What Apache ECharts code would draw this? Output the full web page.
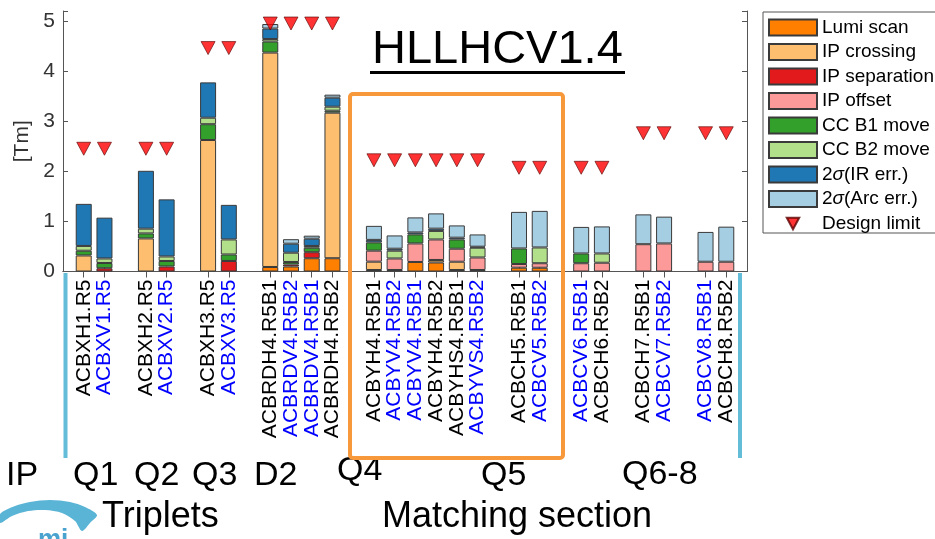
<!DOCTYPE html>
<html><head><meta charset="utf-8">
<script src="https://cdn.jsdelivr.net/npm/echarts@6/dist/echarts.min.js"></script>
<style>html,body{margin:0;padding:0;background:#fff}#c{width:935px;height:539px}</style>
</head><body><div id="c"></div>
<script>
// ---- data ----
const magnetGroups = [
  ['ACBXH1.R5','ACBXV1.R5'],
  ['ACBXH2.R5','ACBXV2.R5'],
  ['ACBXH3.R5','ACBXV3.R5'],
  ['ACBRDH4.R5B1','ACBRDV4.R5B2','ACBRDV4.R5B1','ACBRDH4.R5B2'],
  ['ACBYH4.R5B1','ACBYV4.R5B2','ACBYV4.R5B1','ACBYH4.R5B2','ACBYHS4.R5B1','ACBYVS4.R5B2'],
  ['ACBCH5.R5B1','ACBCV5.R5B2'],
  ['ACBCV6.R5B1','ACBCH6.R5B2'],
  ['ACBCH7.R5B1','ACBCV7.R5B2'],
  ['ACBCV8.R5B1','ACBCH8.R5B2']
];
const seriesNames = ['Lumi scan','IP crossing','IP separation','IP offset','CC B1 move','CC B2 move','2σ(IR err.)','2σ(Arc err.)'];
//                 Q1          Q2          Q3           D2                          Q4                                    Q5            Q6            Q7            Q8
const lumiScan   = [0,0,       0,0,        0,0,         0.09,0.10,0.265,0.265,      0.03,0,0.19,0.18,0.03,0,              0.076,0.075,  0,0,          0,0,          0,0];
const ipCrossing = [0.32,0,    0.66,0,     2.625,0,     4.28,0,0,2.905,             0.166,0,0,0.05,0.165,0,               0,0,          0,0,          0,0,          0,0];
const ipSep      = [0,0.065,   0,0.10,     0,0.21,      0,0.04,0.12,0,              0,0.03,0,0,0,0.03,                    0,0,          0,0,          0,0,          0,0];
const ipOffset   = [0,0,       0,0,        0,0,         0,0,0,0,                    0.22,0.23,0.37,0.41,0.26,0.25,        0.074,0.09,   0.165,0.175,  0.545,0.56,   0.195,0.195];
const ccB1       = [0.095,0.105, 0.10,0.11, 0.315,0.13, 0.22,0.05,0.09,0.04,        0.165,0,0.18,0,0.185,0,               0.31,0,       0.195,0,      0,0,          0,0];
const ccB2       = [0.095,0.09, 0.095,0.09, 0.13,0.30,  0.05,0.185,0.035,0.08,      0,0.155,0,0.17,0,0.195,               0,0.315,      0,0.185,      0,0,          0,0];
const irErr      = [0.84,0.815, 1.155,1.14, 0.705,0.69, 0.21,0.18,0.145,0.18,       0.05,0.04,0.04,0.045,0.035,0.02,      0,0,          0,0,          0,0,          0,0];
const arcErr     = [0,0,       0,0,        0,0,         0.09,0.09,0.06,0.06,        0.28,0.265,0.30,0.305,0.245,0.245,    0.73,0.73,    0.53,0.54,    0.595,0.535,  0.595,0.70];
const designLimit= [2.45,2.45, 2.45,2.45,  4.46,4.46,   4.95,4.95,4.95,4.95,        2.22,2.22,2.22,2.22,2.22,2.22,        2.07,2.07,    2.07,2.07,    2.76,2.76,    2.76,2.76];
const yTicks = [0,1,2,3,4,5];

// ---- build slots (gap between groups) ----
const slots = [];
const slotOfMagnet = [];
let gi = 0;
slots.push('_gap' + (gi++));
magnetGroups.forEach(g => {
  g.forEach(n => { slotOfMagnet.push(slots.length); slots.push(n); });
  slots.push('_gap' + (gi++));
});
function pad(arr) {
  const out = slots.map(() => null);
  arr.forEach((v, i) => { out[slotOfMagnet[i]] = v ? v : null; });
  return out;
}
const colors = ['#ff7f00','#fdbf6f','#e31a1c','#fb9a99','#33a02c','#b2df8a','#1f78b4','#a6cee3'];
const values = [lumiScan, ipCrossing, ipSep, ipOffset, ccB1, ccB2, irErr, arcErr];
const FONT = 'Liberation Sans, Arial, Helvetica, sans-serif';
const isGap = v => String(v).indexOf('_gap') === 0;

const series = values.map((arr, k) => ({
  name: seriesNames[k], type: 'bar', stack: 'total', barWidth: 16,
  xAxisIndex: 0, yAxisIndex: 0,
  itemStyle: { color: colors[k], borderColor: '#3a3a3a', borderWidth: 1 },
  emphasis: { disabled: true },
  data: pad(arr)
}));
series.push({
  name: 'Design limit', type: 'scatter', xAxisIndex: 0, yAxisIndex: 0,
  symbol: 'path://M0,0L14,0L7,13Z', symbolSize: [14, 13],
  itemStyle: { color: '#ff0000', borderColor: '#5a0000', borderWidth: 0.8 },
  z: 5, data: pad(designLimit)
});

const chart = echarts.init(document.getElementById('c'));
chart.setOption({
  animation: false,
  textStyle: { fontFamily: FONT },
  grid: { left: 63, right: 188, top: 11, bottom: 267.5, containLabel: false },
  legend: {
    orient: 'vertical', left: 763, top: 12,
    padding: [6, 6, 0, 5], itemGap: 5.5, itemWidth: 48, itemHeight: 16,
    borderColor: '#555', borderWidth: 1,
    icon: 'rect',
    data: seriesNames.map(n => ({ name: n })).concat([{ name: 'Design limit', icon: 'path://M0,0L14,0L7,13Z M7,-2.5L7,-2.5 M7,15.5L7,15.5' }]),
    formatter: n => n.replace('σ', '{i|σ}'),
    textStyle: { fontSize: 19, color: '#000', fontFamily: FONT, lineHeight: 16,
      rich: { i: { fontStyle: 'italic', fontSize: 19, color: '#000', fontFamily: FONT } } },
    selectedMode: false
  },
  xAxis: [{
    type: 'category', data: slots, boundaryGap: false, position: 'bottom',
    axisLine: { show: true, lineStyle: { color: '#555', width: 1 } },
    axisTick: { show: true, inside: true, length: 5, lineStyle: { color: '#555' }, interval: (i, v) => !isGap(v) },
    axisLabel: {
      interval: 0, rotate: 90, margin: 8, fontSize: 21, fontFamily: FONT,
      formatter: v => isGap(v) ? '' : (/ACB(X|RD|Y|C)V/.test(v) ? '{b|' + v + '}' : '{k|' + v + '}'),
      rich: { b: { color: '#0000ff', fontSize: 21, fontFamily: FONT }, k: { color: '#000', fontSize: 21, fontFamily: FONT } }
    },
    splitLine: { show: false }
  }, {
    type: 'category', data: slots, boundaryGap: false, position: 'top',
    axisLine: { show: true, lineStyle: { color: '#555', width: 1 } },
    axisTick: { show: true, inside: true, length: 6, lineStyle: { color: '#555' }, interval: (i, v) => !isGap(v) },
    axisLabel: { show: false }, splitLine: { show: false }
  }],
  yAxis: [{
    type: 'value', min: 0, max: 5.2, interval: 1, position: 'left',
    name: '[Tm]', nameLocation: 'middle', nameGap: 30, nameRotate: 90,
    nameTextStyle: { fontSize: 21, color: '#333', fontFamily: FONT },
    axisLine: { show: true, lineStyle: { color: '#555', width: 1 } },
    axisTick: { show: true, inside: true, length: 5, lineStyle: { color: '#555' } },
    axisLabel: { fontSize: 21, color: '#333', margin: 8, fontFamily: FONT,
      formatter: v => yTicks.indexOf(v) >= 0 ? String(v) : '' },
    splitLine: { show: false }
  }, {
    type: 'value', min: 0, max: 5.2, interval: 1, position: 'right',
    axisLine: { show: true, lineStyle: { color: '#555', width: 1 } },
    axisTick: { show: true, inside: true, length: 5, lineStyle: { color: '#555' } },
    axisLabel: { show: false }, splitLine: { show: false }
  }],
  series: series,
  graphic: [
    { type: 'text', x: 372, y: 50, style: { text: 'HLLHCV1.4', font: '47px ' + FONT, fill: '#000', verticalAlign: 'middle' }, z: 10 },
    { type: 'line', shape: { x1: 370, y1: 72.5, x2: 625, y2: 72.5 }, style: { stroke: '#000', lineWidth: 3 }, z: 10 },
    { type: 'rect', shape: { x: 350, y: 94, width: 213, height: 364, r: 3 }, style: { fill: 'none', stroke: '#f7993a', lineWidth: 4 }, z: 10 },
    { type: 'line', shape: { x1: 65.5, y1: 273, x2: 65.5, y2: 458 }, style: { stroke: '#63bcd8', lineWidth: 4 }, z: 10 },
    { type: 'line', shape: { x1: 740, y1: 273, x2: 740, y2: 458 }, style: { stroke: '#63bcd8', lineWidth: 4 }, z: 10 },
    { type: 'text', x: 6, y: 476, style: { text: 'IP', font: '34px ' + FONT, fill: '#000', verticalAlign: 'middle' } },
    { type: 'text', x: 73, y: 476, style: { text: 'Q1', font: '34px ' + FONT, fill: '#000', verticalAlign: 'middle' } },
    { type: 'text', x: 134, y: 476, style: { text: 'Q2', font: '34px ' + FONT, fill: '#000', verticalAlign: 'middle' } },
    { type: 'text', x: 192, y: 476, style: { text: 'Q3', font: '34px ' + FONT, fill: '#000', verticalAlign: 'middle' } },
    { type: 'text', x: 254, y: 476, style: { text: 'D2', font: '34px ' + FONT, fill: '#000', verticalAlign: 'middle' } },
    { type: 'text', x: 337, y: 471, style: { text: 'Q4', font: '34px ' + FONT, fill: '#000', verticalAlign: 'middle' } },
    { type: 'text', x: 481, y: 476, style: { text: 'Q5', font: '34px ' + FONT, fill: '#000', verticalAlign: 'middle' } },
    { type: 'text', x: 622, y: 475, style: { text: 'Q6-8', font: '34px ' + FONT, fill: '#000', verticalAlign: 'middle' } },
    { type: 'text', x: 102, y: 517, style: { text: 'Triplets', font: '36px ' + FONT, fill: '#000', verticalAlign: 'middle' } },
    { type: 'text', x: 382, y: 517, style: { text: 'Matching section', font: '36px ' + FONT, fill: '#000', verticalAlign: 'middle' } },
    { type: 'polygon', shape: { smooth: 0.3, points: [[0,514],[15,506],[30,502],[50,500],[70,502],[85,507],[97,515],[90,523],[82,531],[75,521],[62,513],[45,510],[28,511],[12,516],[0,523]] }, style: { fill: '#5ab4d6' } },
    { type: 'text', x: 38, y: 540, style: { text: 'mi', font: 'bold 26px ' + FONT, fill: '#4aa3cf', verticalAlign: 'middle' } }
  ]
});
</script>
</body></html>
